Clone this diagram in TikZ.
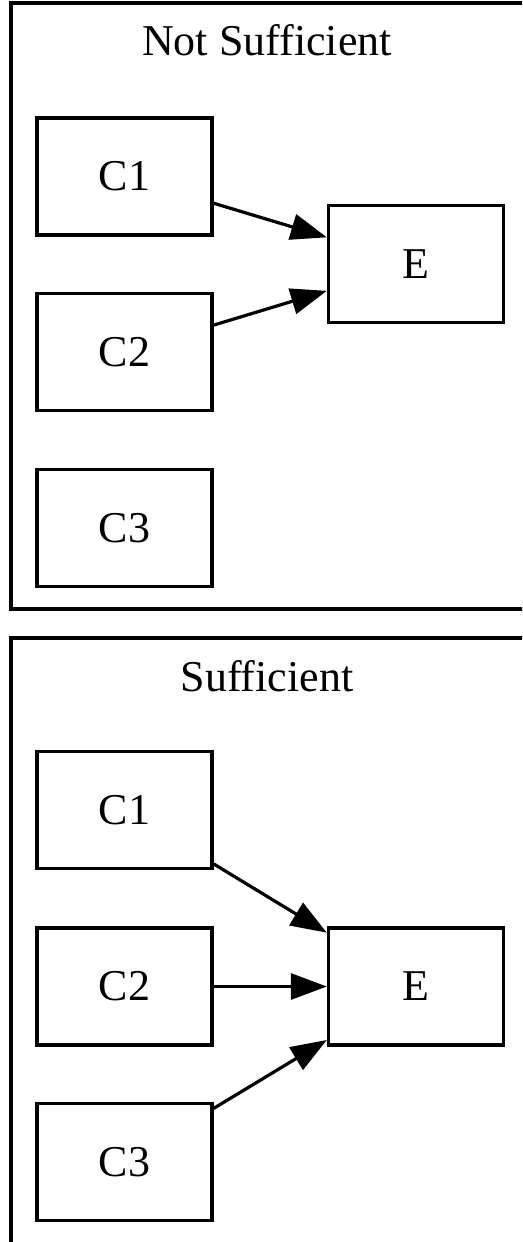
\documentclass[tikz,border=0pt]{standalone}
\usepackage{fontspec}
\setmainfont{Liberation Serif}
\usetikzlibrary{arrows.meta}
\begin{document}
\begin{tikzpicture}[x=1pt,y=-1pt,
  every node/.style={font=\fontsize{44}{53}\selectfont},
  box/.style={draw, line width=3.4pt, minimum width=175pt, minimum height=117pt, inner sep=0pt},
  cluster/.style={draw, line width=3.4pt},
  link/.style={line width=3.2pt, -{Triangle[length=36pt,width=26pt]}}]
\useasboundingbox (0,0) rectangle (522,1242);
\clip (0,0) rectangle (522,1242);

% group: not sufficient
\draw[cluster] (11,3) rectangle (560,609);
\node[anchor=base] (t1) at (267,55) {Not Sufficient};
\node[box] (a1) at (124.5,176.5) {C1};
\node[box] (a2) at (124.5,352) {C2};
\node[box] (a3) at (124.5,528) {C3};
\node[box] (ae) at (416,264) {E};
\draw[link] (a1) -- (ae);
\draw[link] (a2) -- (ae);

% group: sufficient
\draw[cluster] (11,638) rectangle (560,1300);
\node[anchor=base] (t2) at (267,691) {Sufficient};
\node[box] (b1) at (124.5,810) {C1};
\node[box] (b2) at (124.5,986.5) {C2};
\node[box] (b3) at (124.5,1162) {C3};
\node[box] (be) at (416,986.5) {E};
\draw[link] (b1) -- (be);
\draw[link] (b2) -- (be);
\draw[link] (b3) -- (be);
\end{tikzpicture}
\end{document}
